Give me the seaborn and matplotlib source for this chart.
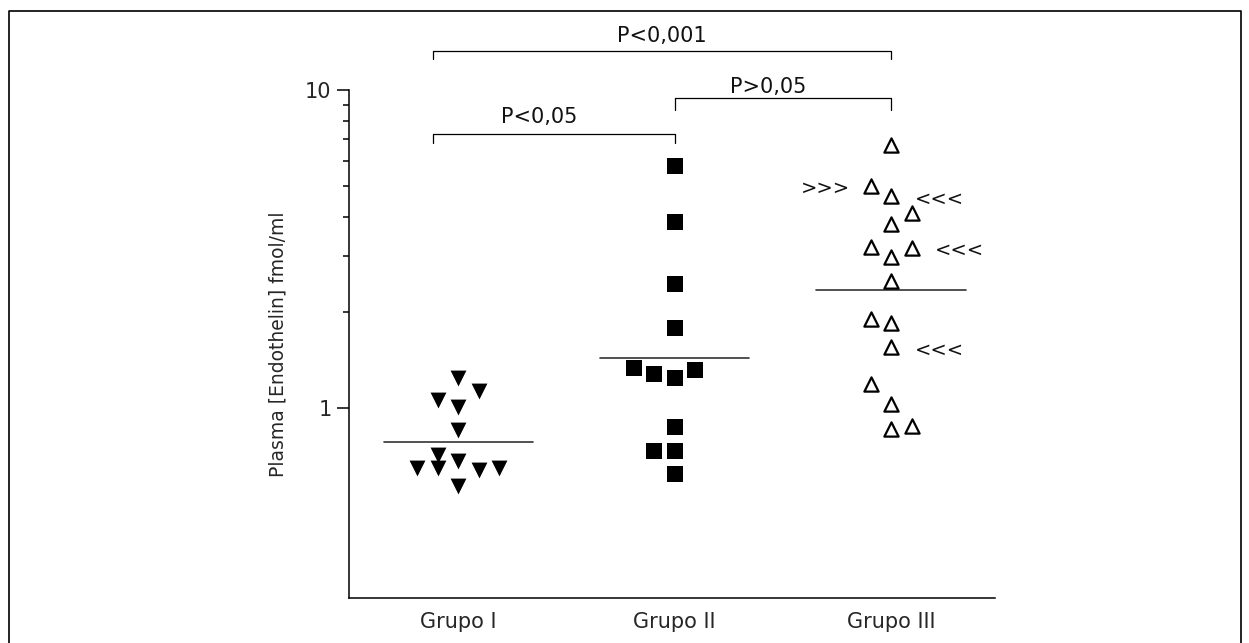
import matplotlib
matplotlib.use("Agg")
import matplotlib.pyplot as plt
import matplotlib.ticker as mticker
from matplotlib.lines import Line2D
import numpy as np
import pandas as pd
import seaborn as sns

# categorias
grupos = ["Grupo I", "Grupo II", "Grupo III"]

# valores (fmol/ml) e deslocamento lateral de cada ponto (em passos)
grupo1 = [1.24, 1.13, 1.06, 1.01, 0.85, 0.71, 0.65, 0.65, 0.68, 0.64, 0.65, 0.57]
grupo1_desl = [0, 1, -1, 0, 0, -1, -2, -1, 0, 1, 2, 0]

grupo2 = [5.77, 3.85, 2.45, 1.79, 1.34, 1.28, 1.24, 1.32, 0.87, 0.73, 0.73, 0.62]
grupo2_desl = [0, 0, 0, 0, -2, -1, 0, 1, 0, -1, 0, 0]

grupo3 = [6.71, 5.00, 4.64, 4.10, 3.79, 3.22, 2.99, 3.19, 2.50, 1.90, 1.85, 1.55,
          1.19, 1.03, 0.86, 0.88]
grupo3_desl = [0, -1, 0, 1, 0, -1, 0, 1, 0, -1, 0, 0, -1, 0, 0, 1]

# linha horizontal de cada grupo
medias = [0.78, 1.44, 2.35]

# comparacoes: texto, grupo inicial, grupo final
comparacoes = [("P<0,05", 0, 1), ("P>0,05", 1, 2), ("P<0,001", 0, 2)]

# pontos marcados no grupo III (indice, texto)
marcados = [(1, ">>>"), (2, "<<<"), (7, "<<<"), (11, "<<<")]

df = pd.DataFrame({
    "grupo": ["Grupo I"] * len(grupo1) + ["Grupo II"] * len(grupo2) + ["Grupo III"] * len(grupo3),
    "valor": grupo1 + grupo2 + grupo3,
    "desl": grupo1_desl + grupo2_desl + grupo3_desl,
})
passo = 0.095
df["x"] = df["grupo"].map({g: i for i, g in enumerate(grupos)}) + df["desl"] * passo

sns.set_style("ticks")
plt.rcParams["font.family"] = ["DejaVu Sans"]
plt.rcParams["text.color"] = "#111111"

fig = plt.figure(figsize=(12.49, 6.43), dpi=100)
ax = fig.add_axes([349 / 1249, 1 - 598 / 643, (995 - 349) / 1249, (598 - 90) / 643])

d1 = df[df.grupo == "Grupo I"]
d2 = df[df.grupo == "Grupo II"]
d3 = df[df.grupo == "Grupo III"]
sns.scatterplot(data=d1, x="x", y="valor", marker="v", s=130, color="black", linewidth=0, ax=ax, zorder=3)
sns.scatterplot(data=d2, x="x", y="valor", marker="s", s=120, color="black", linewidth=0, ax=ax, zorder=3)
sns.scatterplot(data=d3, x="x", y="valor", marker="^", s=105, color="white", edgecolor="black",
                linewidth=1.6, ax=ax, zorder=3)

for i, m in enumerate(medias):
    ax.plot([i - 0.345, i + 0.345], [m, m], color="#333333", lw=1.2, zorder=2)

ax.set_yscale("log")
ax.set_ylim(0.2527, 10)
ax.set_xlim(-0.505, 2.48)

ax.yaxis.set_major_locator(mticker.FixedLocator([1, 10]))
ax.yaxis.set_major_formatter(mticker.FormatStrFormatter("%g"))
ax.yaxis.set_minor_locator(mticker.FixedLocator(range(2, 10)))
ax.yaxis.set_minor_formatter(mticker.NullFormatter())
ax.set_xticks(range(len(grupos)))
ax.set_xticklabels(grupos)

ax.tick_params(axis="y", which="major", length=8.5, width=1.1, labelsize=15, pad=4, color="black")
ax.tick_params(axis="y", which="minor", length=4.3, width=1.1, color="black")
ax.tick_params(axis="x", length=0, labelsize=15, pad=10)
for s in ["left", "bottom"]:
    ax.spines[s].set_linewidth(1.1)
    ax.spines[s].set_color("black")
sns.despine(ax=ax)

ax.set_xlabel("")
ax.set_ylabel("Plasma [Endothelin] fmol/ml", fontsize=13.5, labelpad=13)

# colchetes das comparacoes (x em dados, y em fracao do eixo)
tr = ax.get_xaxis_transform()
niveis = [0.9134, 0.9837, 1.0774]
pernas = [0.018, 0.023, 0.017]
textos_y = [0.9474, 1.0067, 1.1063]
inicio = {0: -0.116, 1: 1.0, 2: 2.0}
textos_dx = [-0.07, -0.07, 0.0]
for k, (txt, a, b) in enumerate(comparacoes):
    xa, xb = inicio[a], inicio[b]
    y, h = niveis[k], pernas[k]
    ax.plot([xa, xa, xb, xb], [y - h, y, y, y - h], color="black", lw=0.9,
            transform=tr, clip_on=False)
    ax.text((xa + xb) / 2 + textos_dx[k], textos_y[k], txt, transform=tr, ha="center",
            va="center", fontsize=15)

# setas ao lado de alguns pontos do grupo III
for idx, txt in marcados:
    row = d3.iloc[idx]
    dx = -45 if txt == ">>>" else 48
    ax.annotate(txt, (row["x"], row["valor"]), xytext=(dx, -3), textcoords="offset pixels",
                ha="center", va="center", fontsize=14)

# moldura da figura (esquerda, topo, direita)
W, H = 1249, 643
fig.lines.append(Line2D([8.5 / W, 8.5 / W, 1241 / W, 1241 / W], [0, 1 - 11 / H, 1 - 11 / H, 0],
                        transform=fig.transFigure, color="black", lw=1.2))

fig.savefig("out.png", dpi=100)
